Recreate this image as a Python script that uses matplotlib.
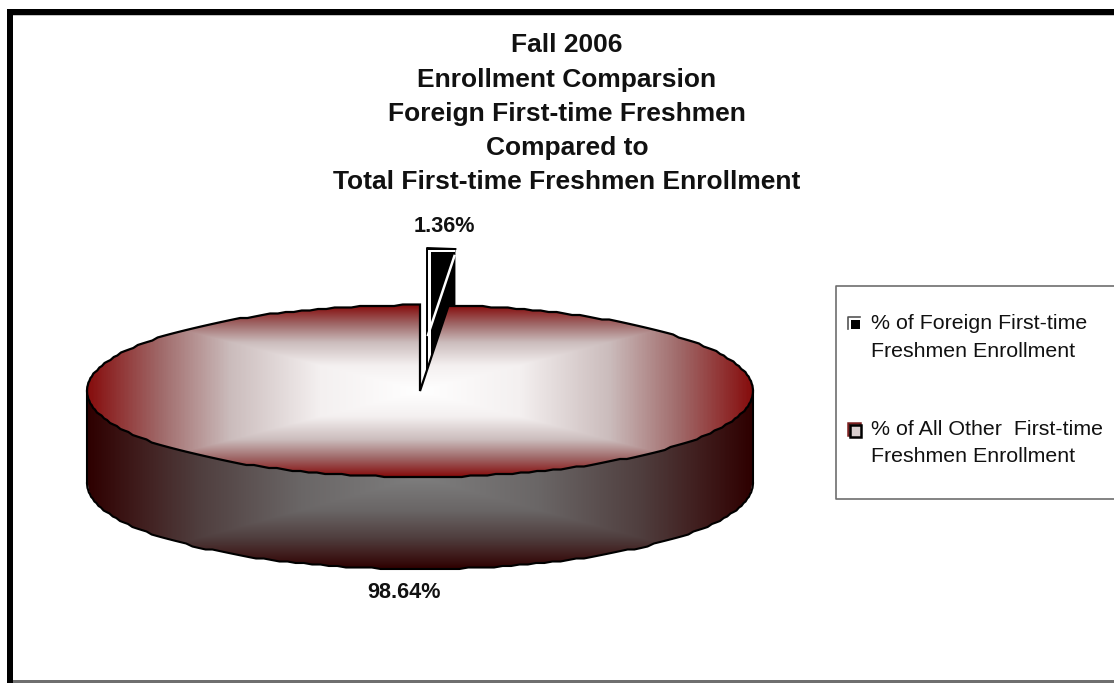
import numpy as np
import matplotlib
matplotlib.use("Agg")
import matplotlib.pyplot as plt
from matplotlib.colors import LinearSegmentedColormap
from matplotlib.patches import Polygon, Rectangle

plt.rcParams['font.family'] = ['Liberation Sans', 'DejaVu Sans']

# data
title_lines = ["Fall 2006", "Enrollment Comparsion", "Foreign First-time Freshmen",
               "Compared to", "Total First-time Freshmen Enrollment"]
shares = [1.36, 98.64]
slice_labels = ["1.36%", "98.64%"]
legend_labels = ["% of Foreign First-time\nFreshmen Enrollment",
                 "% of All Other  First-time\nFreshmen Enrollment"]

W, H = 1114, 683
cx, cy, rx, ry, depth = 420, 391, 333, 86, 92
dx, dy = 7, -57   # how far the small slice is pulled out

fig = plt.figure(figsize=(W / 100, H / 100), dpi=100)
ax = fig.add_axes([0, 0, 1, 1])
ax.set_xlim(0, W)
ax.set_ylim(H, 0)
ax.axis('off')

top_cmap = LinearSegmentedColormap.from_list(
    "top", [(0, "#ffffff"), (.3, "#f4f0f0"), (.57, "#cbbcbc"), (.78, "#a06a6a"), (1, "#860d0d")])
side_cmap = LinearSegmentedColormap.from_list(
    "side", [(0, "#7e7e7e"), (.36, "#6a6666"), (.66, "#503f3f"), (.85, "#3f1c1c"), (1, "#2e0000")])


def ell(angle_deg):
    # angle measured clockwise from 12 o'clock, rounded a bit so the rim steps like the original
    a = np.radians(angle_deg)
    return cx + rx * np.sin(a), np.round((cy - ry * np.cos(a)) / 1.5) * 1.5


slice_deg = 360 * shares[0] / sum(shares)
rim = np.linspace(slice_deg, 360, 240)
rim_x, rim_y = ell(rim)

# small slice, pulled out and behind the big one
ex, ey = ell(slice_deg)
sx, sy = cx + dx, cy + dy
ax.add_patch(Polygon([(sx, sy), (sx, cy - ry + dy), (ex + dx, ey + dy),
                      (ex + dx, ey + dy + depth), (sx, sy + depth)],
                     closed=True, fc='black', ec='none', zorder=1))
ax.add_patch(Rectangle((sx + 1, cy - ry + dy + 2), 3, 118, fc='white', ec='none', zorder=2))
ax.add_patch(Rectangle((sx + 1, cy - ry + dy + 2), ex - cx - 1, 2, fc='white', ec='none', zorder=2))
ax.plot([sx, sx, ex + dx], [sy + 35, cy - ry + dy, ey + dy], color='black', lw=1.4, zorder=3)
ax.plot([sx + 1, ex + dx - 1], [sy + 1, ey + dy + 7], color='white', lw=1.8, zorder=3)

# side of the big slice
side_t = np.linspace(90, 270, 120)
side_x, side_y = ell(side_t)
side_bot = side_y + depth
gx, gy = np.meshgrid(np.linspace(cx - rx, cx + rx, 667), np.linspace(cy - 5, cy + ry + depth + 2, 270))
t_side = np.maximum(np.abs(gx - cx) / rx, (gy - (cy + ry)) / depth)
im = ax.imshow(t_side, cmap=side_cmap, vmin=0, vmax=1, aspect='auto', zorder=4,
               extent=(cx - rx, cx + rx, cy + ry + depth + 2, cy - 5))
outline = np.r_[[[cx + rx, cy]], np.c_[side_x, side_bot], [[cx - rx, cy]]]
clip = Polygon(outline, closed=True, transform=ax.transData, fc='none', ec='none')
ax.add_patch(clip)
im.set_clip_path(clip)

# white shadow and black edge round the side
ax.plot(side_x, side_bot + 1.5, color='white', lw=1.5, zorder=5)
ax.plot(side_x, side_bot, color='black', lw=1.5, zorder=6)
ax.plot([cx - rx, cx - rx], [cy, cy + depth], color='black', lw=1.5, zorder=6)
ax.plot([cx + rx, cx + rx], [cy, cy + depth], color='black', lw=1.5, zorder=6)
ax.plot([cx + rx + 1.5, cx + rx + 1.5], [cy, cy + depth], color='white', lw=1, zorder=6)

# top of the big slice
gx, gy = np.meshgrid(np.linspace(cx - rx, cx + rx, 667), np.linspace(cy - ry, cy + ry, 173))
t_top = np.maximum(np.abs(gx - cx) / rx, np.abs(gy - cy) / ry)
im2 = ax.imshow(t_top, cmap=top_cmap, vmin=0, vmax=1, aspect='auto', zorder=7,
                extent=(cx - rx, cx + rx, cy + ry, cy - ry))
top_xy = np.r_[[[cx, cy]], np.c_[rim_x, rim_y]]
clip2 = Polygon(top_xy, closed=True, transform=ax.transData, fc='none', ec='none')
ax.add_patch(clip2)
im2.set_clip_path(clip2)
ax.add_patch(Polygon(top_xy, closed=True, fc='none', ec='black', lw=1.6, zorder=8))

# slice labels
ax.text(444.5, 227, slice_labels[0], ha='center', va='center', fontsize=15.6, fontweight='bold', color='#111111', zorder=9)
ax.text(404.5, 593, slice_labels[1], ha='center', va='center', fontsize=15.6, fontweight='bold', color='#111111', zorder=9)

# title
for line, y in zip(title_lines, [45, 80, 114, 148, 182]):
    ax.text(567, y, line, ha='center', va='center', fontsize=19, fontweight='bold', color='#111111', zorder=9)

# legend box, open at the right like the picture
ax.plot([W, 836, 836, W], [286, 286, 499, 499], color='#6e6e6e', lw=1.2, zorder=9)
ax.add_patch(Rectangle((848, 317), 12, 12, fc='white', ec='none', zorder=10))
ax.plot([848, 848, 860], [329, 317, 317], color='#555555', lw=1.2, zorder=10)
ax.add_patch(Rectangle((851, 320), 9, 9, fc='black', ec='none', zorder=10))
ax.add_patch(Rectangle((847.5, 422.5), 12, 12, fc='none', ec='#7b2020', lw=1.8, zorder=10))
ax.add_patch(Rectangle((849.5, 424.5), 11, 12, fc='#d8cece', ec='black', lw=1.8, zorder=11))
ax.text(871, 337.5, legend_labels[0], ha='left', va='center', fontsize=15.4, color='#111111', linespacing=1.55, zorder=10)
ax.text(871, 443, legend_labels[1], ha='left', va='center', fontsize=15.4, color='#111111', linespacing=1.55, zorder=10)

# frame: heavy at top and left, thin grey at the bottom
ax.add_patch(Rectangle((7, 9), W - 7, 6, fc='black', ec='none', zorder=12))
ax.add_patch(Rectangle((7, 9), 6, H - 9, fc='black', ec='none', zorder=12))
ax.add_patch(Rectangle((13, 15), W - 13, 1, fc='#c4c4c4', ec='none', zorder=12))
ax.add_patch(Rectangle((13, 680), W - 13, 3, fc='#6f6f6f', ec='none', zorder=12))

fig.savefig("out.png", dpi=100)
